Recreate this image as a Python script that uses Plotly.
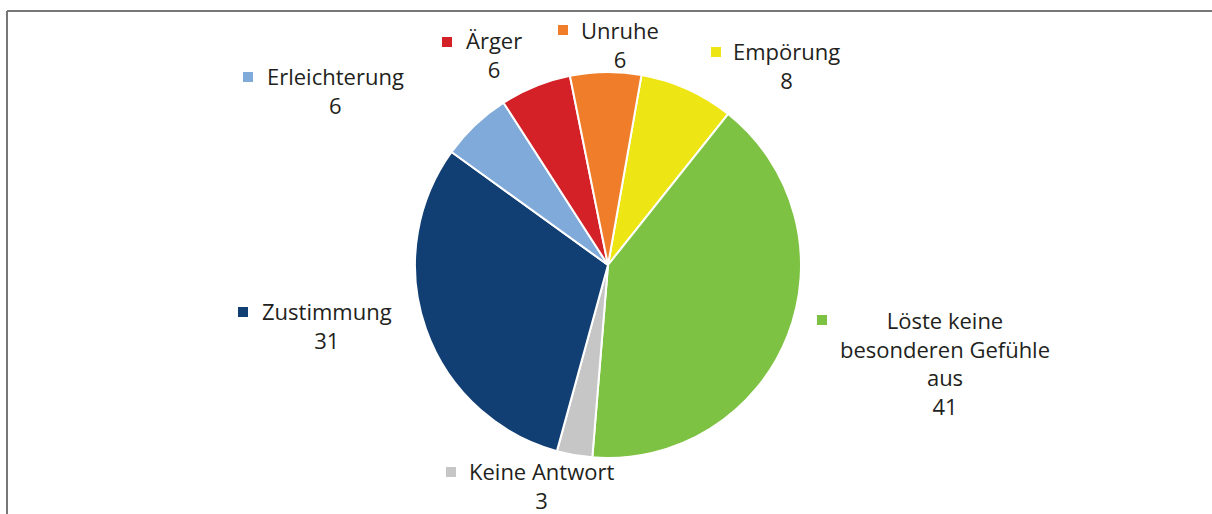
import plotly.graph_objects as go

W, H = 1212, 514

labels = ["Empörung", "Löste keine besonderen Gefühle aus", "Keine Antwort",
          "Zustimmung", "Erleichterung", "Ärger", "Unruhe"]
values = [8, 41, 3, 31, 6, 6, 6]
colors = ["#eee514", "#7dc242", "#c6c6c6", "#123f73", "#80aad9", "#d42027", "#f07d2a"]
label_lines = ["Empörung", "Löste keine<br>besonderen Gefühle<br>aus", "Keine Antwort",
               "Zustimmung", "Erleichterung", "Ärger", "Unruhe"]

# label layout (pixel positions): text block centre and legend-key centre
text_pos = [(787, 65), (945, 363), (541, 485), (327, 325), (335, 90), (494, 55), (620, 44)]
key_pos = [(716, 52), (822, 320), (451, 472), (243, 312), (248, 77), (447, 42), (563, 30)]

def px(x):
    return x / W

def py(y):
    return 1 - y / H

fig = go.Figure(go.Pie(
    labels=labels, values=values, sort=False, direction="clockwise", rotation=10,
    marker=dict(colors=colors, line=dict(color="white", width=2)),
    textinfo="none", hoverinfo="label+value", showlegend=False,
    domain=dict(x=[px(415), px(801)], y=[py(458), py(72)]),
))

font = dict(family="Open Sans, Noto Sans, sans-serif", size=22, color="#231f20")
annotations = []
shapes = []
for i, lab in enumerate(label_lines):
    tx, ty = text_pos[i]
    annotations.append(dict(
        x=px(tx), y=py(ty), xref="paper", yref="paper", xanchor="center", yanchor="middle",
        text=f"{lab}<br>{values[i]}", showarrow=False, align="center", font=font))
    kx, ky = key_pos[i]
    shapes.append(dict(type="rect", xref="paper", yref="paper",
                       x0=px(kx - 5), x1=px(kx + 5), y0=py(ky + 5), y1=py(ky - 5),
                       fillcolor=colors[i], line=dict(width=0)))

# outer frame
shapes.append(dict(type="line", xref="paper", yref="paper", x0=px(7), x1=px(7), y0=0, y1=py(11),
                   line=dict(color="#777777", width=2)))
shapes.append(dict(type="line", xref="paper", yref="paper", x0=px(7), x1=1, y0=py(11), y1=py(11),
                   line=dict(color="#777777", width=2)))

fig.update_layout(
    width=W, height=H, margin=dict(l=0, r=0, t=0, b=0),
    paper_bgcolor="white", plot_bgcolor="white",
    annotations=annotations, shapes=shapes,
)

fig.write_html("out.html", config={"displayModeBar": False},
               post_script="document.body.style.margin='0';document.body.style.overflow='hidden';")
